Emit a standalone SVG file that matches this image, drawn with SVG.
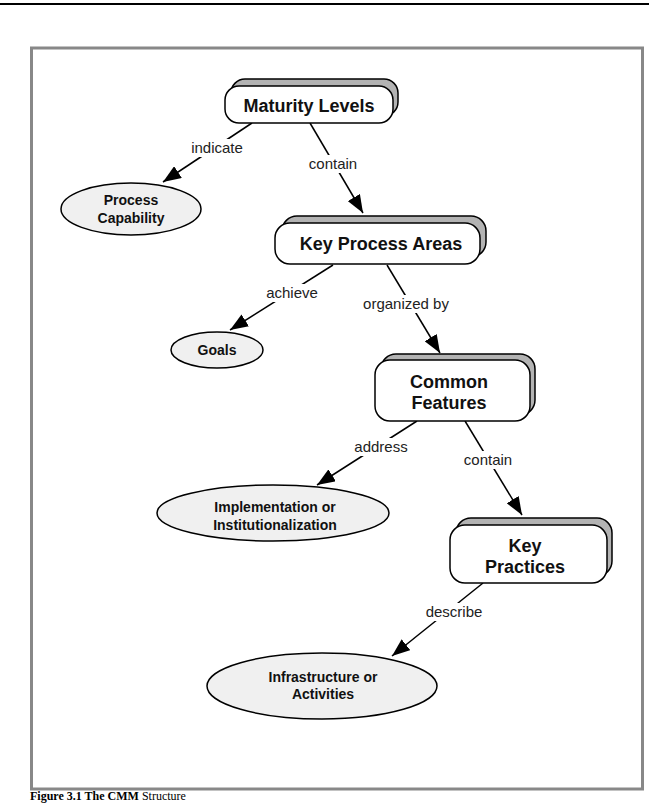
<svg xmlns="http://www.w3.org/2000/svg" width="649" height="804" viewBox="0 0 649 804">
<style>
.sh{fill:#b3b3b3;stroke:#000;stroke-width:1.5}
.bx{fill:#fff;stroke:#000;stroke-width:1.5}
.el{fill:#f0f0f0;stroke:#000;stroke-width:1.5}
.nt{font-family:"Liberation Sans",Arial,sans-serif;font-weight:bold;font-size:18px;fill:#111;text-anchor:middle}
.et{font-family:"Liberation Sans",Arial,sans-serif;font-weight:bold;font-size:14px;fill:#111;text-anchor:middle}
.lt{font-family:"Liberation Sans",Arial,sans-serif;font-size:15px;fill:#222;text-anchor:middle}
.ln{stroke:#000;stroke-width:1.5;fill:none;marker-end:url(#ah)}
.lb{fill:#fff}
</style>
<defs>
<marker id="ah" markerUnits="userSpaceOnUse" markerWidth="20" markerHeight="14" refX="18" refY="7" orient="auto">
<path d="M0,0 L18,7 L0,14 Z" fill="#000"/>
</marker>
</defs>
<rect width="649" height="804" fill="#fff"/>
<line x1="0" y1="4" x2="649" y2="4" stroke="#000" stroke-width="2"/>
<rect x="31.5" y="48" width="611" height="741" fill="none" stroke="#888" stroke-width="3"/>
<text x="30" y="800" font-family="Liberation Serif,serif" font-size="12px" fill="#000"><tspan font-weight="bold">Figure 3.1 The CMM</tspan> Structure</text>

<g id="connectors">
<line class="ln" x1="252" y1="123" x2="163" y2="182"/>
<line class="ln" x1="310" y1="123" x2="363" y2="213"/>
<line class="ln" x1="333" y1="265" x2="230" y2="330"/>
<line class="ln" x1="387" y1="265" x2="440" y2="353"/>
<line class="ln" x1="417" y1="421" x2="317" y2="485"/>
<line class="ln" x1="465" y1="421" x2="522" y2="515"/>
<line class="ln" x1="483" y1="583" x2="392" y2="656"/>
<rect class="lb" x="190" y="139" width="55" height="18"/>
<text class="lt" x="217" y="153">indicate</text>
<rect class="lb" x="306" y="155" width="54" height="18"/>
<text class="lt" x="333" y="169">contain</text>
<rect class="lb" x="265" y="284" width="55" height="18"/>
<text class="lt" x="292" y="298">achieve</text>
<rect class="lb" x="362" y="295" width="88" height="18"/>
<text class="lt" x="406" y="309">organized by</text>
<rect class="lb" x="353" y="438" width="56" height="18"/>
<text class="lt" x="381" y="452">address</text>
<rect class="lb" x="461" y="451" width="54" height="18"/>
<text class="lt" x="488" y="465">contain</text>
<rect class="lb" x="424" y="603" width="60" height="18"/>
<text class="lt" x="454" y="617">describe</text>
</g>

<g id="maturity-levels">
<rect class="sh" x="231" y="79" width="167" height="37" rx="14"/>
<rect class="bx" x="225" y="86" width="168" height="37" rx="14"/>
<text class="nt" x="309" y="112">Maturity Levels</text>
</g>
<g id="key-process-areas">
<rect class="sh" x="282" y="216" width="204" height="41" rx="15"/>
<rect class="bx" x="275" y="223" width="205" height="41" rx="15"/>
<text class="nt" x="381" y="250">Key Process Areas</text>
</g>
<g id="common-features">
<rect class="sh" x="381" y="354" width="154" height="61" rx="15"/>
<rect class="bx" x="375" y="360" width="155" height="61" rx="15"/>
<text class="nt" x="449" y="388">Common</text>
<text class="nt" x="449" y="409">Features</text>
</g>
<g id="key-practices">
<rect class="sh" x="456" y="518" width="156" height="58" rx="15"/>
<rect class="bx" x="450" y="525" width="157" height="58" rx="15"/>
<text class="nt" x="525" y="552">Key</text>
<text class="nt" x="525" y="573">Practices</text>
</g>
<g id="process-capability">
<ellipse class="el" cx="131" cy="209" rx="70" ry="26"/>
<text class="et" x="131" y="205">Process</text>
<text class="et" x="131" y="223">Capability</text>
</g>
<g id="goals">
<ellipse class="el" cx="217" cy="350" rx="46" ry="18"/>
<text class="et" x="217" y="355">Goals</text>
</g>
<g id="implementation">
<ellipse class="el" cx="273" cy="513" rx="116" ry="28"/>
<text class="et" x="275" y="512">Implementation or</text>
<text class="et" x="275" y="530">Institutionalization</text>
</g>
<g id="infrastructure">
<ellipse class="el" cx="322" cy="686" rx="115" ry="33"/>
<text class="et" x="323" y="682">Infrastructure or</text>
<text class="et" x="323" y="699">Activities</text>
</g>
</svg>
